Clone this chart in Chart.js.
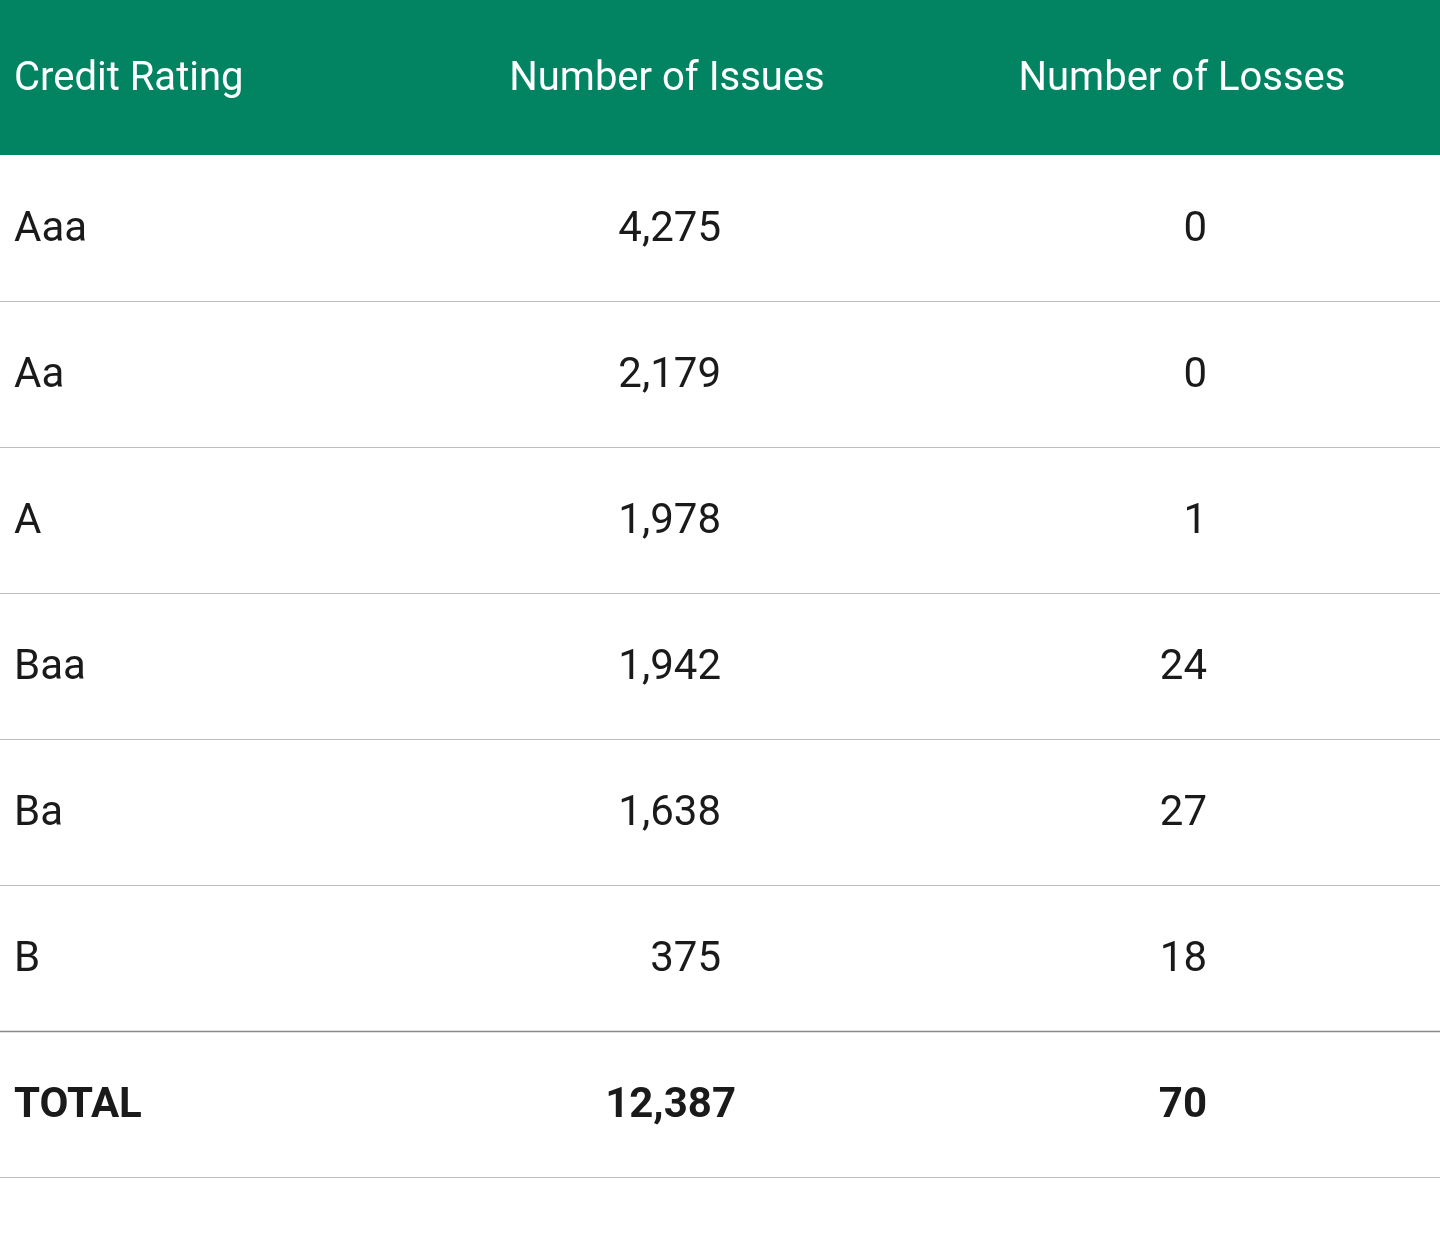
<!DOCTYPE html>
<html>
<head>
<meta charset="utf-8">
<script src="https://cdn.jsdelivr.net/npm/chart.js@4"></script>
<style>
  body { margin: 0; background: #fff; }
  canvas { display: block; }
</style>
</head>
<body>
<canvas id="table" width="1440" height="1237"></canvas>
<script>
var headers = ['Credit Rating', 'Number of Issues', 'Number of Losses'];
var ratings = ['Aaa', 'Aa', 'A', 'Baa', 'Ba', 'B'];
var issues = [4275, 2179, 1978, 1942, 1638, 375];
var losses = [0, 0, 1, 24, 27, 18];
var totalLabel = 'TOTAL';
var totalIssues = 12387;
var totalLosses = 70;

// row index -> y value (row 0 is header); columns live on the x scale in pixels
var rowHeight = 146;
var headerHeight = 155;

function fmt(n) { return n.toLocaleString('en-US'); }

var tablePlugin = {
  id: 'tableCells',
  afterDraw: function (chart) {
    var ctx = chart.ctx;
    var x = chart.scales.x;
    var y = chart.scales.y;
    var font = 'Roboto, "Noto Sans", sans-serif';

    // header band
    ctx.save();
    ctx.fillStyle = '#028462';
    ctx.fillRect(x.getPixelForValue(0), y.getPixelForValue(0), x.getPixelForValue(1440) - x.getPixelForValue(0), y.getPixelForValue(headerHeight) - y.getPixelForValue(0));
    ctx.fillStyle = '#ffffff';
    ctx.font = '40px ' + font;
    ctx.textBaseline = 'middle';
    var hy = y.getPixelForValue(80);
    ctx.textAlign = 'left';
    ctx.fillText(headers[0], x.getPixelForValue(14), hy);
    ctx.textAlign = 'center';
    ctx.fillText(headers[1], x.getPixelForValue(667), hy);
    ctx.fillText(headers[2], x.getPixelForValue(1182), hy);

    var rows = ratings.map(function (r, i) {
      return { label: r, a: fmt(issues[i]), b: String(losses[i]), bold: false };
    });
    rows.push({ label: totalLabel, a: fmt(totalIssues), b: String(totalLosses), bold: true });

    rows.forEach(function (row, i) {
      var top = headerHeight + i * rowHeight;
      var cy = y.getPixelForValue(top + 75);
      ctx.fillStyle = '#1a1a1a';
      ctx.font = (row.bold ? 'bold ' : '') + '42px ' + font;
      ctx.textAlign = 'left';
      ctx.fillText(row.label, x.getPixelForValue(14), cy);
      ctx.textAlign = 'right';
      ctx.fillText(row.a, x.getPixelForValue(row.bold ? 736 : 721), cy);
      ctx.fillText(row.b, x.getPixelForValue(1207), cy);
      // bottom rule
      var ly = Math.round(y.getPixelForValue(top + rowHeight)) + 0.5;
      ctx.strokeStyle = i === rows.length - 2 ? '#888888' : '#bdbdbd';
      ctx.lineWidth = i === rows.length - 2 ? 1.5 : 1;
      ctx.beginPath();
      ctx.moveTo(x.getPixelForValue(0), ly);
      ctx.lineTo(x.getPixelForValue(1440), ly);
      ctx.stroke();
    });
    ctx.restore();
  }
};

new Chart(document.getElementById('table'), {
  type: 'scatter',
  data: { datasets: [{ data: [], pointRadius: 0 }] },
  options: {
    responsive: false,
    animation: false,
    devicePixelRatio: 1,
    layout: { padding: 0 },
    plugins: { legend: { display: false }, tooltip: { enabled: false } },
    scales: {
      x: { type: 'linear', min: 0, max: 1440, display: false },
      y: { type: 'linear', min: 0, max: 1237, reverse: true, display: false }
    }
  },
  plugins: [tablePlugin]
});
</script>
</body>
</html>
